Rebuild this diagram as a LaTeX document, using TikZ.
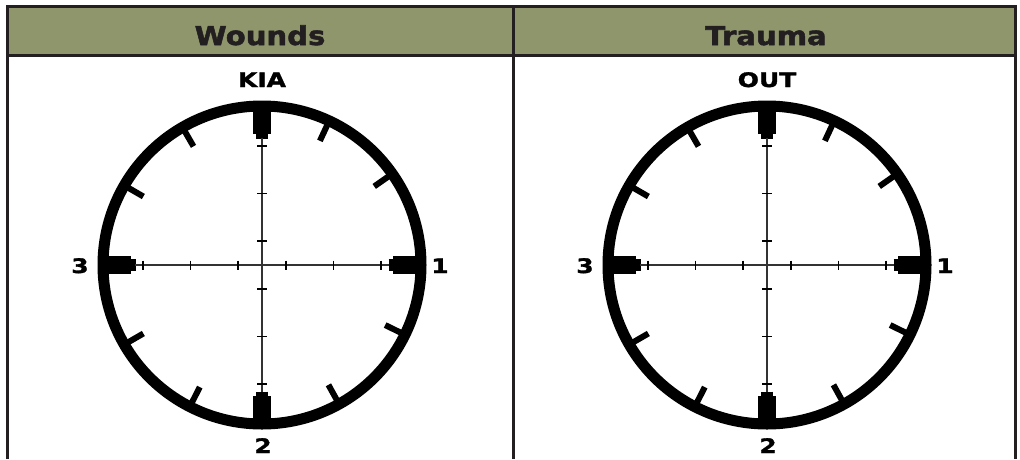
\documentclass[tikz,border=0pt]{standalone}
\usepackage{fontspec}
\setmainfont{DejaVu Sans}
\newfontfamily\hdrfont[FakeStretch=1.12,FakeBold=2]{DejaVu Sans}
\newfontfamily\lblfont[FakeStretch=1.25,FakeBold=1.5]{DejaVu Sans}
\definecolor{hdrfill}{HTML}{8F966C}
\definecolor{rulecol}{HTML}{231F20}
\tikzset{
  ring/.style={line width=11pt, draw=black},
  major/.style={line width=18.5pt, draw=black},
  majortip/.style={line width=12pt, draw=black},
  minor/.style={line width=6pt, draw=black},
  hair/.style={line width=1.3pt, draw=black!80},
  hairtick/.style={line width=1.3pt, draw=black},
  lbl/.style={font=\lblfont\bfseries\fontsize{20}{20}\selectfont, text=black, inner sep=0pt, anchor=base},
  hdr/.style={font=\hdrfont\bfseries\fontsize{26}{26}\selectfont, text=rulecol, inner sep=0pt, anchor=base},
  rulelines/.style={line width=3pt, draw=rulecol, line join=miter},
  dial/.pic={
    \draw[ring] (0,0) circle[radius=159pt];
    \foreach \a in {-65,-35,26,61,-120,-150,-210,-243}
      \draw[minor] (\a:137) -- (\a:157);
    \foreach \a in {0,90,180,270} {
      \draw[major] (\a:131) -- (\a:160);
      \draw[majortip] (\a:126.5) -- (\a:131);
    }
    \draw[hair] (-127,0) -- (127,0);
    \draw[hair] (0,-127) -- (0,127);
    \foreach \d in {-119,-71.5,-24,24,71.5,119} {
      \draw[hairtick] (\d,-4.5) -- (\d,4.5);
      \draw[hairtick] (-5,\d) -- (5,\d);
    }
    \node[lbl] (-top) at (0,-178) {#1};
    \node[lbl] (-left) at (-182,8) {3};
    \node[lbl] (-right) at (178,8) {1};
    \node[lbl] (-bottom) at (1,188) {2};
  }
}
\begin{document}
\begin{tikzpicture}[x=1pt,y=-1pt]
  \useasboundingbox (0,0) rectangle (1020,459);
  \fill[hdrfill] (7.5,6.5) rectangle (1015.5,55.5);
  \draw[rulelines] (7.5,459) -- (7.5,6.5) -- (1015.5,6.5) -- (1015.5,459);
  \draw[rulelines] (7.5,55.5) -- (1015.5,55.5);
  \draw[rulelines] (513.5,6.5) -- (513.5,459);
  \node[hdr] (hw) at (260,45) {Wounds};
  \node[hdr] (ht) at (766,45) {Trauma};
  \pic (w) at (262,265) {dial=KIA};
  \pic (t) at (767,265) {dial=OUT};
\end{tikzpicture}
\end{document}
